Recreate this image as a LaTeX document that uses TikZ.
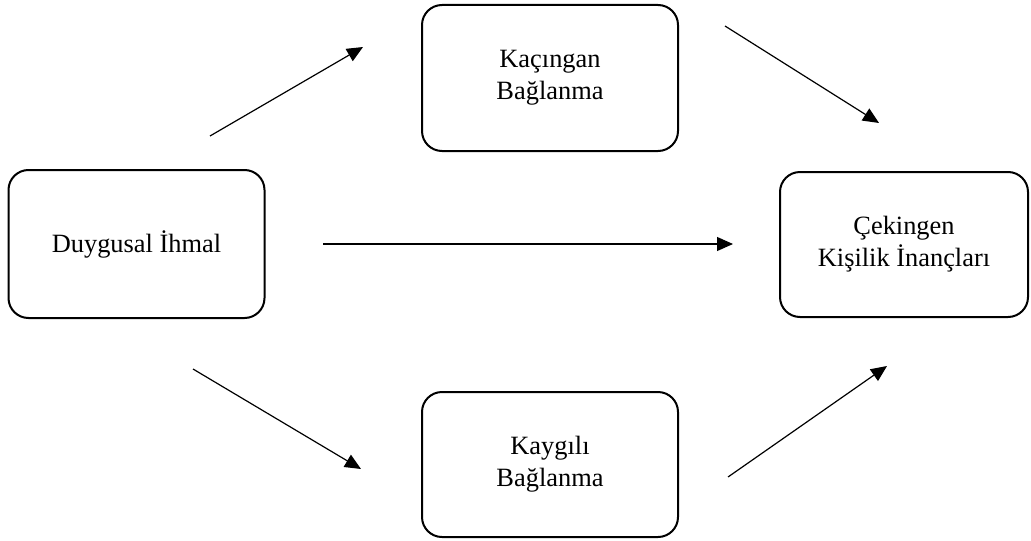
\documentclass[tikz,border=0pt]{standalone}
\usepackage{fontspec}
\setmainfont{Liberation Serif}
\usetikzlibrary{arrows.meta}

\begin{document}
\begin{tikzpicture}[x=0.5pt, y=-0.5pt,
  box/.style = {draw, line width=1pt, rounded corners=10pt, align=center, inner sep=0pt,
                font=\fontsize{13.2}{16}\selectfont},
  arr/.style = {line width=0.6pt, -{Triangle[length=8pt, width=7pt]}}]
\useasboundingbox (0,0) rectangle (1031,540);
\node[box, minimum width=128pt, minimum height=74pt] (ihmal) at (136.5,244) {Duygusal İhmal};
\node[box, minimum width=128pt, minimum height=73pt] (kacingan) at (550,78) {Kaçıngan\\Bağlanma};
\node[box, minimum width=128pt, minimum height=72.5pt] (kaygili) at (550,464.5) {Kaygılı\\Bağlanma};
\node[box, minimum width=124pt, minimum height=72.5pt] (cekingen) at (904,244.5) {Çekingen\\Kişilik İnançları};
% free arrow ends
\coordinate (a1s) at (210,136);  \coordinate (a1e) at (363,47);
\coordinate (a2s) at (725,26);   \coordinate (a2e) at (879,123);
\coordinate (a3s) at (323,244);  \coordinate (a3e) at (733,244);
\coordinate (a4s) at (193,369);  \coordinate (a4e) at (361,469);
\coordinate (a5s) at (728,477);  \coordinate (a5e) at (887,366);
\draw[arr] (a1s) -- (a1e);
\draw[arr] (a2s) -- (a2e);
\draw[arr] (a3s) -- (a3e);
\draw[arr] (a4s) -- (a4e);
\draw[arr] (a5s) -- (a5e);
\end{tikzpicture}
\end{document}
